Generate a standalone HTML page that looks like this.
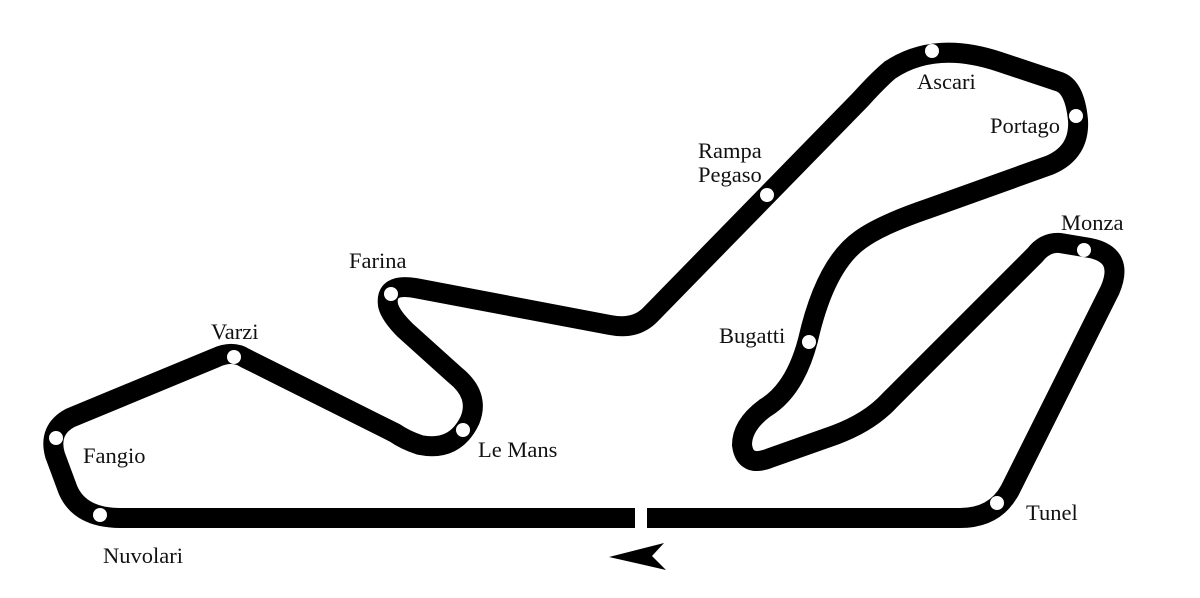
<!DOCTYPE html>
<html><head><style>
body{margin:0;background:#fff;}
svg text{font-family:"Liberation Serif",serif;font-size:22.5px;fill:#111;}
</style></head><body>
<svg width="1200" height="593" viewBox="0 0 1200 593" xmlns="http://www.w3.org/2000/svg">
<path d="M647,518 L960,518 Q995,518 1010,490 L1110,290 Q1125,255 1090,248 L1060,243 Q1045,242 1035,255 L890,400 Q870,422 835,435 L770,458 Q745,468 742,445 Q742,425 765,408 Q795,390 808,340 Q825,265 860,240 Q880,225 930,208 L1050,165 Q1080,152 1078,120 Q1075,88 1060,82 L1000,62 Q935,40 890,70 Q878,80 860,100 L650,315 Q635,330 610,325 L415,288 Q385,283 388,305 Q390,315 405,330 L455,375 Q480,395 470,420 Q455,452 420,445 Q405,440 395,433 L245,358 Q232,350 215,358 L70,418 Q48,430 55,455 L68,490 Q80,518 120,518 L635,518" fill="none" stroke="#000" stroke-width="20" stroke-linejoin="round"/>
<polygon points="609,557 664,543 652,556 666,570" fill="#000"/>
<g fill="#fff">
<circle cx="932" cy="51" r="7"/>
<circle cx="1076" cy="116" r="7"/>
<circle cx="767" cy="195" r="7"/>
<circle cx="1084" cy="250" r="7"/>
<circle cx="809" cy="342" r="7"/>
<circle cx="391" cy="294" r="7"/>
<circle cx="234" cy="357" r="7"/>
<circle cx="463" cy="430" r="7"/>
<circle cx="56" cy="438" r="7"/>
<circle cx="100" cy="515" r="7"/>
<circle cx="997" cy="503" r="7"/>
</g>
<text x="917" y="89">Ascari</text>
<text x="990" y="133">Portago</text>
<text x="698" y="158">Rampa</text>
<text x="698" y="182">Pegaso</text>
<text x="1061" y="230">Monza</text>
<text x="719" y="343">Bugatti</text>
<text x="349" y="268">Farina</text>
<text x="211" y="339">Varzi</text>
<text x="478" y="457">Le Mans</text>
<text x="83" y="463">Fangio</text>
<text x="103" y="563">Nuvolari</text>
<text x="1026" y="520">Tunel</text>
</svg>
</body></html>
